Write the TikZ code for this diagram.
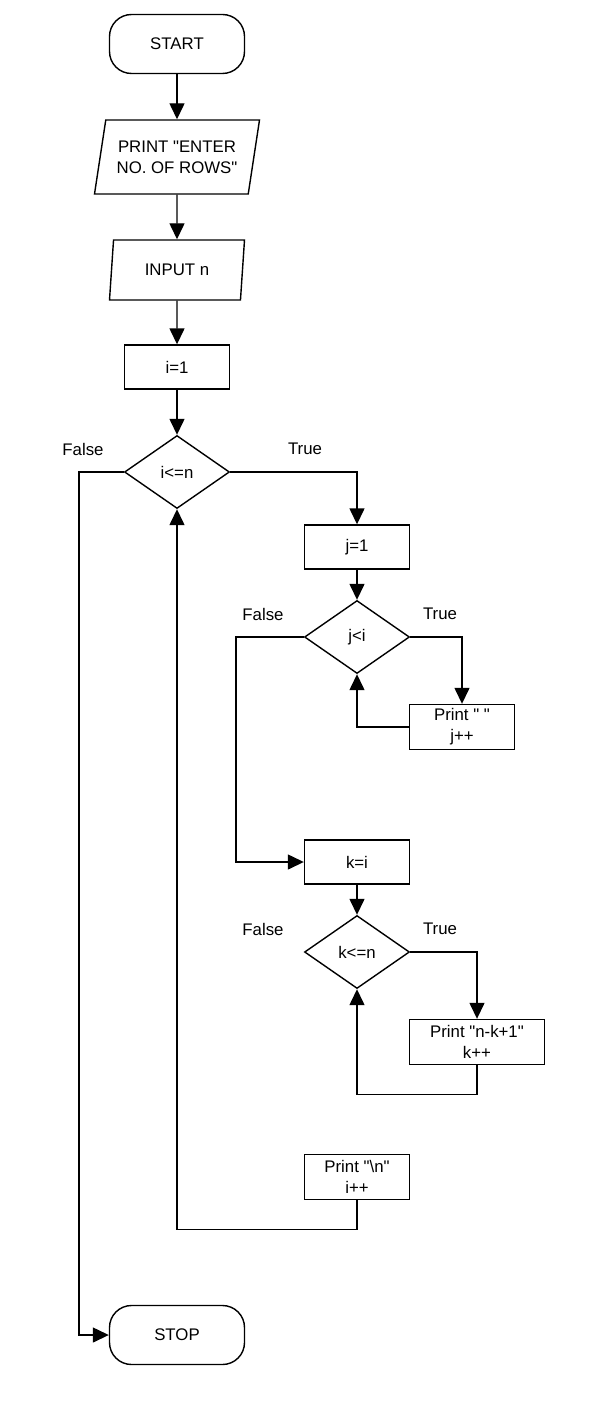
\documentclass[tikz,border=0pt]{standalone}
\usepackage{fontspec}
\setmainfont{Liberation Sans}[Ligatures=TeXOff]
\usetikzlibrary{arrows.meta,shapes.geometric}

\tikzset{
    terminal/.style={draw,rounded corners=22,minimum width=135,minimum height=59,inner sep=0},
    inout/.style={draw,trapezium,trapezium left angle=71,trapezium right angle=109,
        trapezium stretches body,inner sep=0,align=center},
    process/.style={draw,rectangle,minimum width=105,minimum height=44,inner sep=0,align=center},
    decision/.style={draw,diamond,minimum width=105,minimum height=73,inner sep=0},
    flow/.style={-{Triangle[width=15,length=16]}},
    lbl/.style={inner sep=0}
}

\begin{document}
\begin{tikzpicture}[x=1pt,y=-1pt,line width=1.4pt,line join=miter,
    font=\fontsize{16.8}{21}\selectfont]
    \useasboundingbox (0,0) rectangle (595,1415);

    \node[terminal] (start) at (177,44) {START};
    \node[inout,minimum width=165,minimum height=74] (prompt) at (177,157) {PRINT "ENTER\\NO. OF ROWS"};
    \node[inout,minimum width=135,minimum height=60] (readn) at (177,270) {INPUT n};
    \node[process] (iinit) at (177,367) {i=1};
    \node[decision] (icond) at (177,472) {i<=n};
    \node[lbl] (ifalse) at (83,449) {False};
    \node[lbl] (itrue) at (305,449) {True};

    \node[process] (jinit) at (357,547) {j=1};
    \node[decision] (jcond) at (357,637) {j<i};
    \node[lbl] (jfalse) at (263,614) {False};
    \node[lbl] (jtrue) at (440,614) {True};
    \node[process,minimum height=45] (space) at (462,727) {Print "\ "\\j++};

    \node[process] (kinit) at (357,862) {k=i};
    \node[decision] (kcond) at (357,952) {k<=n};
    \node[lbl] (kfalse) at (263,929) {False};
    \node[lbl] (ktrue) at (440,929) {True};
    \node[process,minimum width=135,minimum height=45] (number) at (477,1042) {Print "n-k+1"\\k++};

    \node[process,minimum height=45] (newline) at (357,1177) {Print "\textbackslash n"\\i++};
    \node[terminal] (stop) at (177,1335) {STOP};

    % main column
    \draw[flow] (start) -- (prompt);
    \draw[flow] (prompt) -- (readn);
    \draw[flow] (readn) -- (iinit);
    \draw[flow] (iinit) -- (icond);
    \draw[flow] (icond.east) -| (jinit.north);
    \draw[flow] (icond.west) -- ++(-45,0) |- (stop.west);

    % j loop
    \draw[flow] (jinit) -- (jcond);
    \draw[flow] (jcond.east) -| (space.north);
    \draw[flow] (space.west) -| (jcond.south);
    \draw[flow] (jcond.west) -- ++(-68,0) |- (kinit.west);

    % k loop
    \draw[flow] (kinit) -- (kcond);
    \draw[flow] (kcond.east) -| (number.north);
    \draw[flow] (number.south) -- ++(0,29) -| (kcond.south);

    % back to i
    \draw[flow] (newline.south) -- ++(0,29) -| (icond.south);
\end{tikzpicture}
\end{document}
